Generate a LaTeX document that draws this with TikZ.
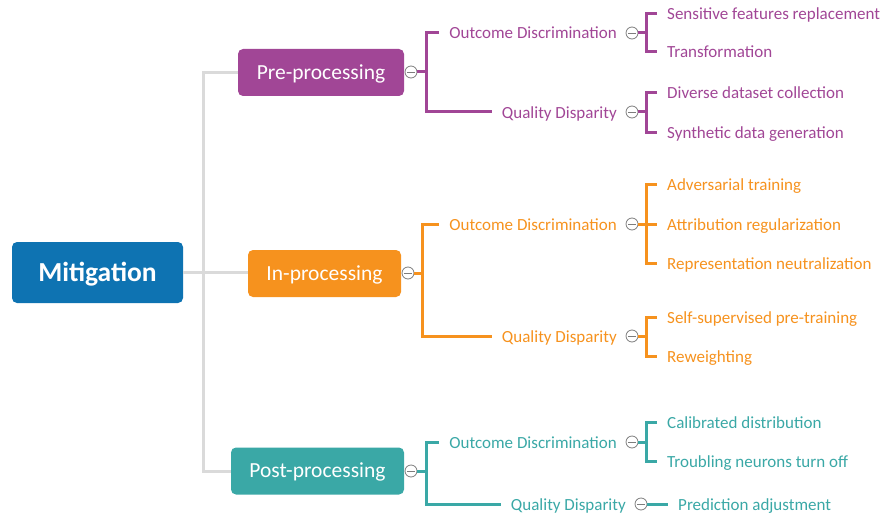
\documentclass[tikz,border=0pt]{standalone}
\usepackage{fontspec}
\setmainfont{Carlito}
\usetikzlibrary{calc}

\definecolor{mitblue}{RGB}{14,115,178}
\definecolor{prepurple}{RGB}{161,70,150}
\definecolor{inorange}{RGB}{246,146,30}
\definecolor{postteal}{RGB}{58,168,166}
\definecolor{trunkgray}{RGB}{218,218,218}
\definecolor{knobgray}{RGB}{125,125,125}

\tikzset{
  root/.style={fill=mitblue, rounded corners=5pt, text=white, inner sep=0pt,
    minimum width=171pt, minimum height=61pt, text height=17.8pt, text depth=0pt,
    font=\fontsize{27.5}{30}\selectfont\bfseries},
  stage/.style={fill=#1, rounded corners=5pt, text=white, inner sep=0pt,
    minimum height=47pt, text height=13.8pt, text depth=0pt,
    font=\fontsize{21.5}{24}\selectfont},
  branch/.style={text=#1, anchor=east, inner xsep=10pt, inner ysep=0pt,
    text height=12pt, text depth=0pt, font=\fontsize{17}{19}\selectfont},
  leaf/.style={text=#1, anchor=west, inner xsep=10pt, inner ysep=0pt,
    text height=12pt, text depth=0pt, font=\fontsize{17}{19}\selectfont},
  knob/.style={circle, draw=knobgray, fill=white, line width=0.8pt,
    minimum size=12pt, inner sep=0pt,
    path picture={\draw[knobgray, line width=0.8pt]
      ($(path picture bounding box.west)+(2pt,0)$) --
      ($(path picture bounding box.east)+(-2pt,0)$);}},
  trunk/.style={draw=trunkgray, line width=3pt},
  twig/.style={draw=#1, line width=3pt},
}

\begin{document}
\begin{tikzpicture}[x=1pt, y=-1pt]
\useasboundingbox (0,0) rectangle (885,516);

% root and the three stages
\node[root] (mit) at (97.5,272.5) {Mitigation};
\node[stage=prepurple, minimum width=166pt] (pre) at (321,72.5) {Pre-processing};
\node[stage=inorange, minimum width=153pt] (in) at (324.5,273.5) {In-processing};
\node[stage=postteal, minimum width=173pt] (post) at (317.5,471) {Post-processing};

\coordinate (spine) at (203,272);
\draw[trunk] (mit.east) -- (mit.east -| in.west);
\draw[trunk] (pre.west) -| (spine) |- (post.west);

% ---------- Pre-processing ----------
\node[knob] (preK) at (411,72) {};
\coordinate (preJ) at (426,72);
\node[branch=prepurple] (preOD) at (627,33) {Outcome Discrimination};
\node[branch=prepurple] (preQD) at (627,112) {Quality Disparity};
\draw[twig=prepurple] (preK.east) -- (preJ);
\draw[twig=prepurple] (preOD.west) -| (preJ) |- (preQD.west);

\node[knob] (preODK) at (632,33) {};
\coordinate (preODJ) at (646,33);
\node[leaf=prepurple] (preL1) at (657,14) {Sensitive features replacement};
\node[leaf=prepurple] (preL2) at (657,52) {Transformation};
\draw[twig=prepurple] (preODK.east) -- (preODJ);
\draw[twig=prepurple] (preL1.west) -| (preODJ) |- (preL2.west);

\node[knob] (preQDK) at (632,112) {};
\coordinate (preQDJ) at (646,112);
\node[leaf=prepurple] (preL3) at (657,93) {Diverse dataset collection};
\node[leaf=prepurple] (preL4) at (657,132) {Synthetic data generation};
\draw[twig=prepurple] (preQDK.east) -- (preQDJ);
\draw[twig=prepurple] (preL3.west) -| (preQDJ) |- (preL4.west);

% ---------- In-processing ----------
\node[knob] (inK) at (408,273) {};
\coordinate (inJ) at (422,273);
\node[branch=inorange] (inOD) at (627,224) {Outcome Discrimination};
\node[branch=inorange] (inQD) at (627,336) {Quality Disparity};
\draw[twig=inorange] (inK.east) -- (inJ);
\draw[twig=inorange] (inOD.west) -| (inJ) |- (inQD.west);

\node[knob] (inODK) at (632,224) {};
\coordinate (inODJ) at (646,224);
\node[leaf=inorange] (inL1) at (657,184) {Adversarial training};
\node[leaf=inorange] (inL2) at (657,224) {Attribution regularization};
\node[leaf=inorange] (inL3) at (657,263) {Representation neutralization};
\draw[twig=inorange] (inODK.east) -- (inL2.west);
\draw[twig=inorange] (inL1.west) -| (inODJ) |- (inL3.west);

\node[knob] (inQDK) at (632,336) {};
\coordinate (inQDJ) at (646,336);
\node[leaf=inorange] (inL4) at (657,317) {Self-supervised pre-training};
\node[leaf=inorange] (inL5) at (657,356) {Reweighting};
\draw[twig=inorange] (inQDK.east) -- (inQDJ);
\draw[twig=inorange] (inL4.west) -| (inQDJ) |- (inL5.west);

% ---------- Post-processing ----------
\node[knob] (postK) at (411,471) {};
\coordinate (postJ) at (426,471);
\node[branch=postteal] (postOD) at (627,442) {Outcome Discrimination};
\node[branch=postteal] (postQD) at (636,504) {Quality Disparity};
\draw[twig=postteal] (postK.east) -- (postJ);
\draw[twig=postteal] (postOD.west) -| (postJ) |- (postQD.west);

\node[knob] (postODK) at (632,442) {};
\coordinate (postODJ) at (646,442);
\node[leaf=postteal] (postL1) at (657,422) {Calibrated distribution};
\node[leaf=postteal] (postL2) at (657,461) {Troubling neurons turn off};
\draw[twig=postteal] (postODK.east) -- (postODJ);
\draw[twig=postteal] (postL1.west) -| (postODJ) |- (postL2.west);

\node[knob] (postQDK) at (641,504) {};
\node[leaf=postteal] (postL3) at (668,504) {Prediction adjustment};
\draw[twig=postteal] (postQDK.east) -- (postL3.west);
\end{tikzpicture}
\end{document}
